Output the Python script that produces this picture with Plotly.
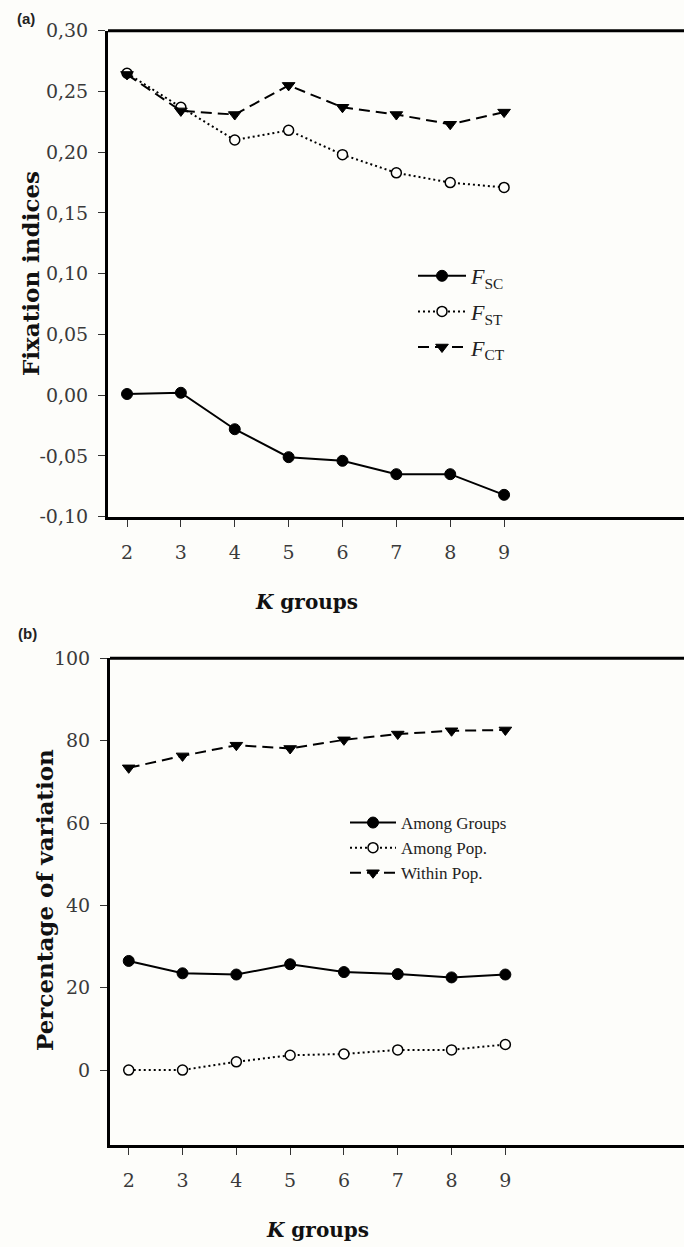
import plotly.graph_objects as go

# ---- data ----
k_groups = [2, 3, 4, 5, 6, 7, 8, 9]

f_sc = [0.001, 0.002, -0.028, -0.051, -0.054, -0.065, -0.065, -0.082]
f_st = [0.265, 0.237, 0.210, 0.218, 0.198, 0.183, 0.175, 0.171]
f_ct = [0.264, 0.234, 0.231, 0.255, 0.237, 0.231, 0.223, 0.233]

among_groups = [26.5, 23.5, 23.2, 25.7, 23.8, 23.3, 22.5, 23.2]
among_pop = [0.0, 0.0, 2.0, 3.6, 3.9, 4.9, 4.9, 6.2]
within_pop = [73.4, 76.3, 78.9, 78.1, 80.2, 81.6, 82.4, 82.6]

a_names = ["<i>F</i><sub>SC</sub>", "<i>F</i><sub>ST</sub>", "<i>F</i><sub>CT</sub>"]
b_names = ["Among Groups", "Among Pop.", "Within Pop."]

y_ticks_a = [-0.10, -0.05, 0.00, 0.05, 0.10, 0.15, 0.20, 0.25, 0.30]
y_ticktext_a = ["-0,10", "-0,05", "0,00", "0,05", "0,10", "0,15", "0,20", "0,25", "0,30"]
y_ticks_b = [0, 20, 40, 60, 80, 100]
y_ticktext_b = ["0", "20", "40", "60", "80", "100"]
x_ticktext = ["2", "3", "4", "5", "6", "7", "8", "9"]

# ---- styles ----
W, H = 684, 1247
BG = "#fdfdfa"
TICKFONT = dict(family="DejaVu Serif", size=19, color="#3a3a3a")
TITLEFONT = dict(family="DejaVu Serif", size=23, color="#111")

styles = [
    dict(line=dict(color="black", width=2, dash="solid"),
         marker=dict(symbol="circle", size=11, color="black", line=dict(color="black", width=1))),
    dict(line=dict(color="black", width=2, dash="2px,3px"),
         marker=dict(symbol="circle", size=10, color=BG, line=dict(color="black", width=1.5))),
    dict(line=dict(color="black", width=2, dash="11px,6px"),
         marker=dict(symbol="triangle-down", size=11, color="black", line=dict(color="black", width=1))),
]

fig = go.Figure()

for name, ys, st in zip(a_names, [f_sc, f_st, f_ct], styles):
    fig.add_trace(go.Scatter(x=k_groups, y=ys, name=name, mode="lines+markers",
                             line=st["line"], marker=st["marker"],
                             xaxis="x", yaxis="y", legend="legend", legendgroup=name))

for name, ys, st in zip(b_names, [among_groups, among_pop, within_pop], styles):
    fig.add_trace(go.Scatter(x=k_groups, y=ys, name=name, mode="lines+markers",
                             line=st["line"], marker=st["marker"],
                             xaxis="x2", yaxis="y2", legend="legend2"))

def px_x(p):
    return p / W

def px_y(p):
    return 1 - p / H

common_x = dict(showline=True, linewidth=3, linecolor="black", ticks="outside",
                ticklen=7, tickwidth=1, tickcolor="#333", showgrid=False, zeroline=False,
                tickvals=k_groups, ticktext=x_ticktext, tickfont=TICKFONT,
                ticklabelstandoff=9, automargin=False)
common_y = dict(showline=True, linewidth=3, linecolor="black", ticks="outside",
                ticklen=7, tickwidth=1, tickcolor="#333", showgrid=False, zeroline=False,
                tickfont=TICKFONT, ticklabelstandoff=6, automargin=False)

fig.update_layout(
    width=W, height=H,
    margin=dict(l=0, r=0, t=0, b=0, pad=0, autoexpand=False),
    paper_bgcolor=BG, plot_bgcolor=BG,
    xaxis=dict(domain=[px_x(108), 1], range=[1.647, 12.34], anchor="y", **common_x),
    yaxis=dict(domain=[px_y(516.7), px_y(30.7)], range=[-0.10, 0.30], anchor="x",
               tickvals=y_ticks_a, ticktext=y_ticktext_a, **common_y),
    xaxis2=dict(domain=[px_x(110), 1], range=[1.652, 12.32], anchor="y2", **common_x),
    yaxis2=dict(domain=[px_y(1145), px_y(658.3)], range=[-18.2, 100], anchor="x2",
                tickvals=y_ticks_b, ticktext=y_ticktext_b, **common_y),
    legend=dict(x=px_x(413), y=px_y(255), xanchor="left", yanchor="top",
                bgcolor="rgba(0,0,0,0)", itemwidth=48, tracegroupgap=4,
                font=dict(family="Liberation Serif", size=22, color="#222")),
    legend2=dict(x=px_x(345), y=px_y(805), xanchor="left", yanchor="top",
                 bgcolor="rgba(0,0,0,0)", itemwidth=46, tracegroupgap=0,
                 font=dict(family="Liberation Serif", size=17, color="#222")),
    showlegend=True,
)

# top frame lines
for xr, yr in [("x domain", "y domain"), ("x2 domain", "y2 domain")]:
    fig.add_shape(type="line", xref=xr, yref=yr, x0=0, x1=1, y0=1, y1=1,
                  line=dict(color="black", width=3))

# titles and panel labels
annots = [
    dict(text="<b>Fixation indices</b>", x=px_x(31), y=px_y(274), textangle=-90, font=TITLEFONT),
    dict(text="<b>Percentage of variation</b>", x=px_x(44), y=px_y(900), textangle=-90, font=TITLEFONT),
    dict(text="<b><i>K</i> groups</b>", x=px_x(306), y=px_y(602), font=dict(TITLEFONT, size=20)),
    dict(text="<b><i>K</i> groups</b>", x=px_x(317), y=px_y(1230), font=dict(TITLEFONT, size=20)),
    dict(text="<b>(a)</b>", x=px_x(26), y=px_y(19), font=dict(family="Liberation Sans", size=15, color="#222")),
    dict(text="<b>(b)</b>", x=px_x(27), y=px_y(633), font=dict(family="Liberation Sans", size=15, color="#222")),
]
for a in annots:
    fig.add_annotation(xref="paper", yref="paper", showarrow=False,
                       xanchor="center", yanchor="middle", **a)

fig.write_html("out.html", config={"displayModeBar": False},
               post_script="document.body.style.margin='0';document.body.style.overflow='hidden';")
